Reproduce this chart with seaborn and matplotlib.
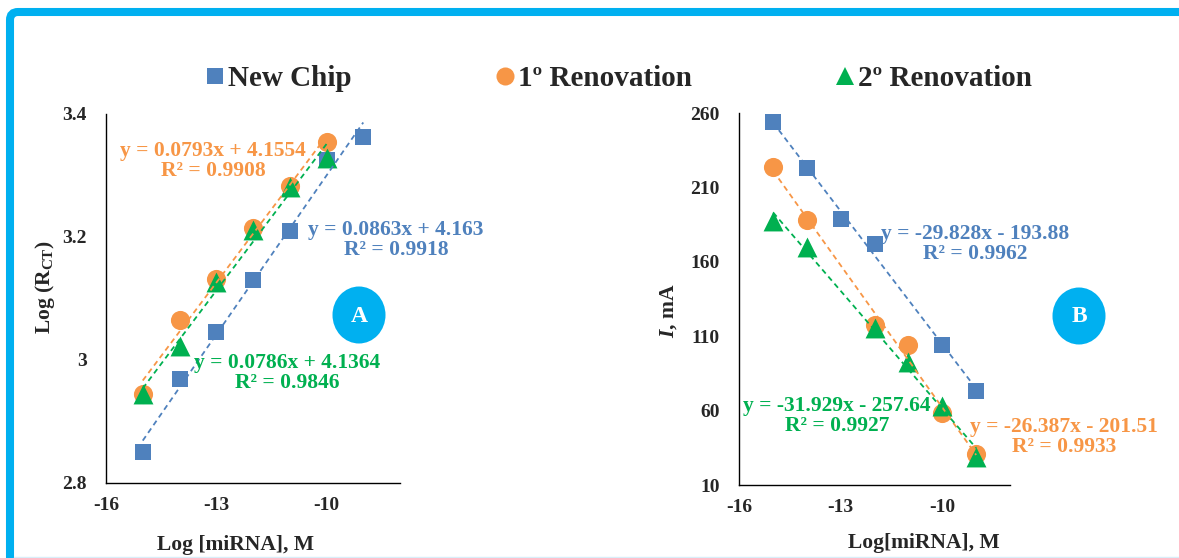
import numpy as np
import matplotlib
matplotlib.use('Agg')
import matplotlib.pyplot as plt
import seaborn as sns
from matplotlib.lines import Line2D
from matplotlib.patches import FancyBboxPatch, Ellipse
from matplotlib.transforms import IdentityTransform
from matplotlib.ticker import AutoMinorLocator, FuncFormatter

# ----------------------------------------------------------------------------
# data

# A: Log(R_CT)
new_chip_x_a = [-15, -14, -13, -12, -11, -10, -9]
new_chip_rct = [2.851, 2.969, 3.045, 3.130, 3.209, 3.326, 3.363]
reno1_x_a = [-15, -14, -13, -12, -11, -10]
reno1_rct = [2.945, 3.065, 3.131, 3.214, 3.283, 3.354]
reno2_x_a = [-15, -14, -13, -12, -11, -10]
reno2_rct = [2.944, 3.023, 3.127, 3.211, 3.282, 3.328]

# B: current, mA
new_chip_x_b = [-15, -14, -13, -12, -10, -9]
new_chip_i = [253.9, 223.4, 188.7, 171.9, 104.2, 73.2]
reno1_x_b = [-15, -14, -12, -11, -10, -9]
reno1_i = [223.7, 188.2, 117.4, 104.0, 58.7, 30.7]
reno2_x_b = [-15, -14, -12, -11, -10, -9]
reno2_i = [187.6, 170.3, 115.5, 93.0, 63.0, 28.5]

series_names = ['New Chip', '1º Renovation', '2º Renovation']
eq_a = ['y = 0.0863x + 4.163\nR² = 0.9918',
        'y = 0.0793x + 4.1554\nR² = 0.9908',
        'y = 0.0786x + 4.1364\nR² = 0.9846']
eq_b = ['y = -29.828x - 193.88\nR² = 0.9962',
        'y = -26.387x - 201.51\nR² = 0.9933',
        'y = -31.929x - 257.64\nR² = 0.9927']

BLUE, ORANGE, GREEN, CYAN = '#4F81BD', '#F79646', '#00B050', '#00B0F0'
colors = [BLUE, ORANGE, GREEN]
markers = ['s', 'o', '^']
sizes = [135, 190, 205]

# ----------------------------------------------------------------------------
sns.set_style('white')
plt.rcParams['font.family'] = ['Liberation Serif', 'DejaVu Serif']
plt.rcParams['font.weight'] = 'bold'
plt.rcParams['mathtext.fontset'] = 'custom'
plt.rcParams['mathtext.rm'] = 'Liberation Serif:bold'
plt.rcParams['mathtext.bf'] = 'Liberation Serif:bold'
plt.rcParams['mathtext.it'] = 'Liberation Serif:bold:italic'
plt.rcParams['mathtext.default'] = 'bf'

W, H = 1179, 558
fig = plt.figure(figsize=(W / 100, H / 100), dpi=100)


def px(x, y):
    return x / W, 1 - y / H


ax_a = fig.add_axes([106 / W, 1 - 483 / H, 294 / W, 369 / H])
ax_b = fig.add_axes([739.3 / W, 1 - 485 / H, 270.7 / W, 371.7 / H])

panel_a = [(new_chip_x_a, new_chip_rct), (reno1_x_a, reno1_rct), (reno2_x_a, reno2_rct)]
panel_b = [(new_chip_x_b, new_chip_i), (reno1_x_b, reno1_i), (reno2_x_b, reno2_i)]

for ax, panel in [(ax_a, panel_a), (ax_b, panel_b)]:
    for (xs, ys), c, m, s in zip(panel, colors, markers, sizes):
        sns.scatterplot(x=np.array(xs), y=np.array(ys), marker=m, s=s, color=c,
                        linewidth=0, ax=ax, zorder=2, clip_on=False)
    for (xs, ys), c in zip(panel, colors):
        sns.regplot(x=np.array(xs), y=np.array(ys), scatter=False, ci=None, ax=ax,
                    truncate=True,
                    line_kws=dict(color=c, lw=1.3, ls=(0, (3, 2.2)), zorder=3))

ax_a.set_xlim(-16, -8)
ax_a.set_ylim(2.8, 3.4)
ax_a.set_yticks([2.8, 3.0, 3.2, 3.4])
ax_b.set_xlim(-16, -8)
ax_b.set_ylim(10, 260)
ax_b.set_yticks([10, 60, 110, 160, 210, 260])

for ax in [ax_a, ax_b]:
    ax.set_xticks([-16, -13, -10])
    ax.xaxis.set_minor_locator(AutoMinorLocator(5))
    ax.yaxis.set_minor_locator(AutoMinorLocator(5))
    ax.yaxis.set_major_formatter(FuncFormatter(lambda v, p: f'{v:g}'))
    ax.xaxis.set_major_formatter(FuncFormatter(lambda v, p: f'{v:g}'))
    ax.tick_params(which='major', direction='inout', length=12, width=1, color='black',
                   labelsize=14)
    ax.tick_params(which='minor', direction='out', length=5, width=1, color='black')
    ax.tick_params(axis='y', which='major', pad=8)
    ax.tick_params(axis='x', which='major', pad=4)
    for side in ['top', 'right']:
        ax.spines[side].set_visible(False)
    for side in ['left', 'bottom']:
        ax.spines[side].set_color('black')
        ax.spines[side].set_linewidth(1)
    ax.set_facecolor('none')

ax_a.set_xlabel('Log [miRNA], M', fontsize=15.5, fontweight='bold')
ax_a.xaxis.set_label_coords(0.44, -0.14)
ax_a.set_ylabel('Log (R$_{CT}$)', fontsize=15.5, fontweight='bold')
ax_a.yaxis.set_label_coords(-0.165, 0.53)

ax_b.set_xlabel('Log[miRNA], M', fontsize=15.5, fontweight='bold')
ax_b.xaxis.set_label_coords(0.682, -0.128)
ax_b.set_ylabel('$\\mathit{I}$, mA', fontsize=15.5, fontweight='bold')
ax_b.yaxis.set_label_coords(-0.222, 0.47)

# trendline equations
eq_pos_a = [(396, 240), (213, 161), (287, 373)]
eq_pos_b = [(975, 244), (1064, 437), (837, 416)]
for txt, (x, y), c in zip(eq_a, eq_pos_a, colors):
    fig.text(*px(x, y), txt, color=c, fontsize=15.5, fontweight='bold',
             ha='center', va='center', multialignment='center', linespacing=1.0)
for txt, (x, y), c in zip(eq_b, eq_pos_b, colors):
    fig.text(*px(x, y), txt, color=c, fontsize=15.5, fontweight='bold',
             ha='center', va='center', multialignment='center', linespacing=1.0)

# panel badges
for lab, (x, y) in [('A', (359, 315)), ('B', (1079, 316))]:
    fig.add_artist(Ellipse((x, H - y), 53, 57, facecolor=CYAN, edgecolor='none',
                           transform=IdentityTransform()))
    fig.text(*px(x, y + 1), lab, color='white', fontsize=17, fontweight='bold',
             ha='center', va='center')

# legend
handles = [Line2D([], [], ls='none', marker=m, color=c, markersize=ms, markeredgewidth=0)
           for m, c, ms in zip(markers, colors, [12, 13, 13])]
fig.legend(handles, series_names, loc='center', bbox_to_anchor=px(620, 79), ncol=3,
           frameon=False, prop=dict(size=21, weight='bold'), handlelength=0.5,
           handletextpad=0.2, columnspacing=5.0)

# outer frame
fig.add_artist(FancyBboxPatch((10, -30), 1250, H - 12 + 30,
                              boxstyle='round,pad=0,rounding_size=8',
                              facecolor='none', edgecolor=CYAN, linewidth=5.8,
                              transform=IdentityTransform()))
fig.add_artist(Line2D([14, W], [1.5, 1.5], color='#D8EEF9', lw=1,
                      transform=IdentityTransform()))

fig.savefig('out.png', dpi=100)
